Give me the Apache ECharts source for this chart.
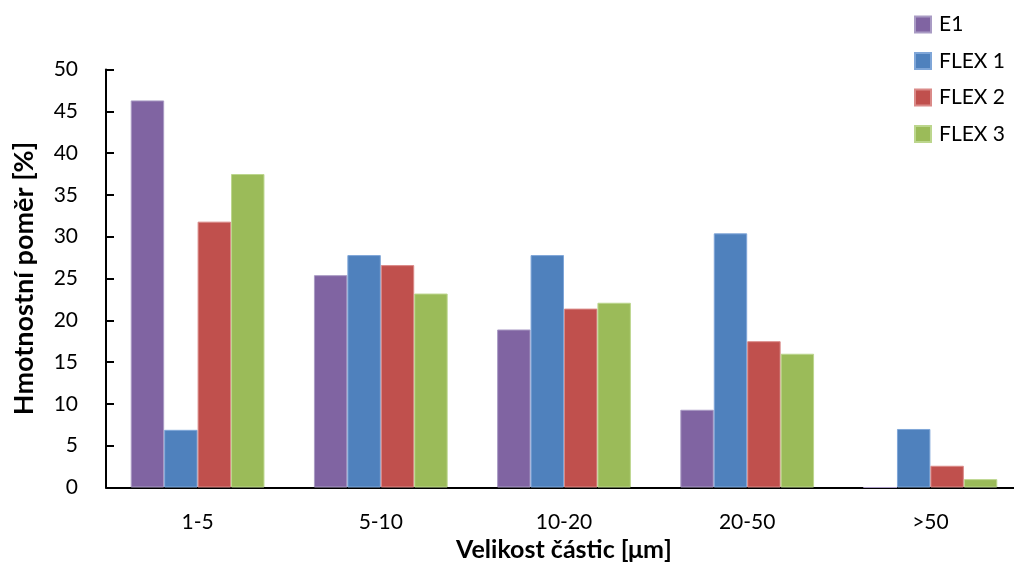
<!DOCTYPE html>
<html>
<head>
<meta charset="utf-8">
<script src="https://cdn.jsdelivr.net/npm/echarts@6/dist/echarts.min.js"></script>
<style>
  html, body { margin: 0; padding: 0; background: #fff; }
  #chart { width: 1014px; height: 562px; }
</style>
</head>
<body>
<div id="chart"></div>
<script>
// Particle size classes and mass fractions (%)
const categories = ['1-5', '5-10', '10-20', '20-50', '>50'];
const seriesNames = ['E1', 'FLEX 1', 'FLEX 2', 'FLEX 3'];
const e1    = [46.3, 25.4, 18.9, 9.3, 0];
const flex1 = [6.9, 27.8, 27.8, 30.4, 7.0];
const flex2 = [31.8, 26.6, 21.4, 17.5, 2.6];
const flex3 = [37.5, 23.2, 22.1, 16.0, 1.0];
const yTicks = { min: 0, max: 50, interval: 5 };

const colors = ['#8064A2', '#4F81BD', '#C0504D', '#9BBB59'];
const borders = ['#A99BC4', '#7FA6D8', '#DA8A88', '#BCD68D'];
const values = [e1, flex1, flex2, flex3];
const font = 'Lato, "Open Sans", sans-serif';

const chart = echarts.init(document.getElementById('chart'), null, { renderer: 'canvas' });
chart.setOption({
  backgroundColor: '#fff',
  animation: false,
  textStyle: { fontFamily: font },
  legend: {
    orient: 'vertical',
    left: 909,
    top: 9,
    itemWidth: 16,
    itemHeight: 16,
    itemGap: 15.5,
    icon: 'rect',
    textStyle: { fontFamily: font, fontSize: 21, color: '#000', padding: [0, 0, 0, 3] },
    data: seriesNames
  },
  grid: {
    left: 106, top: 69.5, right: -8, bottom: 74.5,
    containLabel: false, outerBoundsMode: 'none'
  },
  xAxis: {
    type: 'category',
    data: categories,
    name: 'Velikost částic [μm]',
    nameLocation: 'middle',
    nameGap: 48,
    nameTextStyle: { fontFamily: font, fontSize: 25, fontWeight: 'bold', color: '#000' },
    axisLine: { lineStyle: { color: '#000', width: 2 } },
    axisTick: { inside: true, length: 7, lineStyle: { color: '#000', width: 2 } },
    axisLabel: { fontFamily: font, fontSize: 21, color: '#000', margin: 24 }
  },
  yAxis: {
    type: 'value',
    min: yTicks.min, max: yTicks.max, interval: yTicks.interval,
    name: 'Hmotnostní poměr [%]',
    nameLocation: 'middle',
    nameGap: 68,
    nameTextStyle: { fontFamily: font, fontSize: 27, fontWeight: 'bold', color: '#000' },
    axisLine: { show: true, lineStyle: { color: '#000', width: 2 } },
    axisTick: { show: true, inside: true, length: 8, lineStyle: { color: '#000', width: 2 } },
    axisLabel: { fontFamily: font, fontSize: 21, color: '#000', margin: 28 },
    splitLine: { show: false }
  },
  series: seriesNames.map((name, i) => ({
    name,
    type: 'bar',
    data: values[i],
    barGap: '0%',
    barCategoryGap: '27%',
    itemStyle: { color: colors[i], borderColor: borders[i], borderWidth: 1 }
  }))
});
</script>
</body>
</html>
